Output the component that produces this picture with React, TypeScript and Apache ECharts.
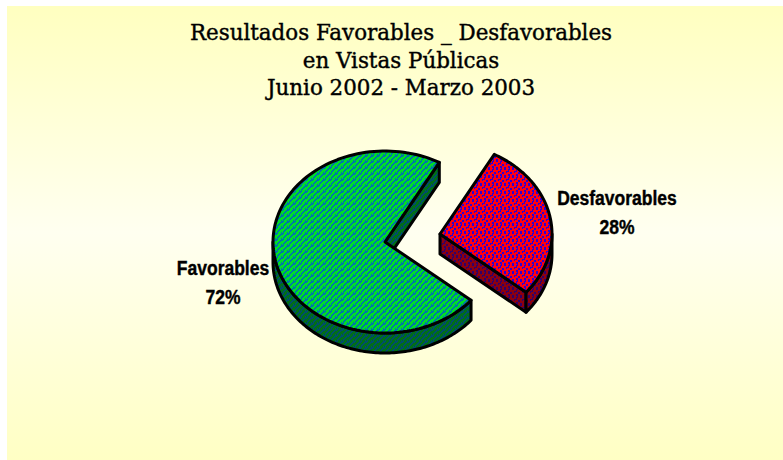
import React, { useEffect, useRef } from "react";
import * as echarts from "echarts";

const categories = ["Favorables", "Desfavorables"];
const shares = [72, 28];
const titleLines = ["Resultados Favorables _ Desfavorables", "en Vistas Públicas", "Junio 2002 - Marzo 2003"];

const CX = 385, CY = 242, RX = 112, RY = 91, DEPTH = 20;
const START = -61; // parametric degrees where the smaller slice starts
const OFFSET = [55, -8];

// tile rows: "#" is the second colour
const zigzag = ["#...##", "...##.", "..##..", ".##...", ".#...#", "##...#"];
const blocks = ["##...#..", "##..##..", "....#...", "..###...", "..#...##", "......##", "....##..", "##..##.."];

function pattern(rows: string[], a: string, b: string) {
  const c = document.createElement("canvas");
  c.width = rows[0].length; c.height = rows.length;
  const g = c.getContext("2d")!;
  g.fillStyle = a; g.fillRect(0, 0, c.width, c.height);
  g.fillStyle = b;
  rows.forEach((r, y) => r.split("").forEach((ch, x) => { if (ch === "#") g.fillRect(x, y, 1, 1); }));
  return { image: c, repeat: "repeat" };
}

export default function App() {
  const ref = useRef<HTMLDivElement>(null);
  useEffect(() => {
    document.body.style.margin = "0";
    const chart = echarts.init(ref.current!, null, { renderer: "svg" });
    const fills = [
      { top: pattern(zigzag, "#00dc28", "#0070b0"), side: pattern(zigzag, "#006e18", "#004a70") },
      { top: pattern(blocks, "#ff0010", "#3000d0"), side: pattern(blocks, "#8c0010", "#30006a") },
    ];
    const line = { stroke: "#000", lineWidth: 3, lineJoin: "round" };
    const rad = (d: number) => (d * Math.PI) / 180;
    const pt = (cx: number, cy: number, d: number) => [cx + RX * Math.cos(rad(d)), cy + RY * Math.sin(rad(d))];
    const arc = (cx: number, cy: number, a: number, b: number) => {
      const out: number[][] = [];
      for (let i = 0; i <= 120; i++) out.push(pt(cx, cy, a + ((b - a) * i) / 120));
      return out;
    };
    const poly = (points: number[][], fill: any) => ({ type: "polygon", shape: { points }, style: { ...line, fill } });

    chart.setOption({
      animation: false,
      graphic: [{
        type: "rect", z: -10, silent: true,
        shape: { x: 7, y: 6, width: 776, height: 454 },
        style: { fill: new echarts.graphic.LinearGradient(0, 0, 0, 1, [
          { offset: 0, color: "#ffffc0" },
          { offset: 0.5, color: "#fffff0" },
          { offset: 1, color: "#ffffc4" },
        ]) },
      }],
      title: {
        text: titleLines.join("\n"), left: 396, top: 14, textAlign: "center",
        textStyle: { fontFamily: "DejaVu Serif", fontWeight: "normal", fontSize: 21.4, lineHeight: 27.5, color: "#000", textBorderColor: "#000", textBorderWidth: 0.4 },
      },
      xAxis: { show: false }, yAxis: { show: false },
      series: [{
        type: "custom",
        coordinateSystem: "none",
        data: categories.map((c, i) => [c, shares[i]]),
        renderItem: (params: any) => {
          const i = params.dataIndex;
          const total = shares.reduce((s, v) => s + v, 0);
          const span = (shares[1] / total) * 360;
          const END = START + span;
          const children: any[] = [];
          if (i === 0) {
            const a0 = END, a1 = START + 360;
            const s0 = pt(CX, CY, a1);
            children.push(poly([[CX, CY], s0, [s0[0], s0[1] + DEPTH], [CX, CY + DEPTH]], fills[0].side));
            children.push(poly([...arc(CX, CY, a0, 180), ...arc(CX, CY + DEPTH, 180, a0)], fills[0].side));
            children.push(poly([[CX, CY], ...arc(CX, CY, a0, a1)], fills[0].top));
          } else {
            const cx = CX + OFFSET[0], cy = CY + OFFSET[1];
            const e = pt(cx, cy, END);
            children.push(poly([[cx, cy], e, [e[0], e[1] + DEPTH], [cx, cy + DEPTH]], fills[1].side));
            children.push(poly([...arc(cx, cy, 0, END), ...arc(cx, cy + DEPTH, END, 0)], fills[1].side));
            children.push(poly([[cx, cy], ...arc(cx, cy, START, END)], fills[1].top));
          }
          const pos = i === 0 ? [223, 283] : [617, 213];
          children.push({
            type: "text",
            x: pos[0], y: pos[1], scaleX: 0.875,
            style: {
              x: 0, y: 0,
              text: `${categories[i]}\n${shares[i]}%`,
              fill: "#000",
              stroke: "#000",
              lineWidth: 0.4,
              font: 'bold 20px "Liberation Sans"',
              lineHeight: 29,
              align: "center", verticalAlign: "middle",
            },
          });
          return { type: "group", children };
        },
      }],
    });
    return () => chart.dispose();
  }, []);
  return <div ref={ref} style={{ width: 783, height: 460 }} />;
}
